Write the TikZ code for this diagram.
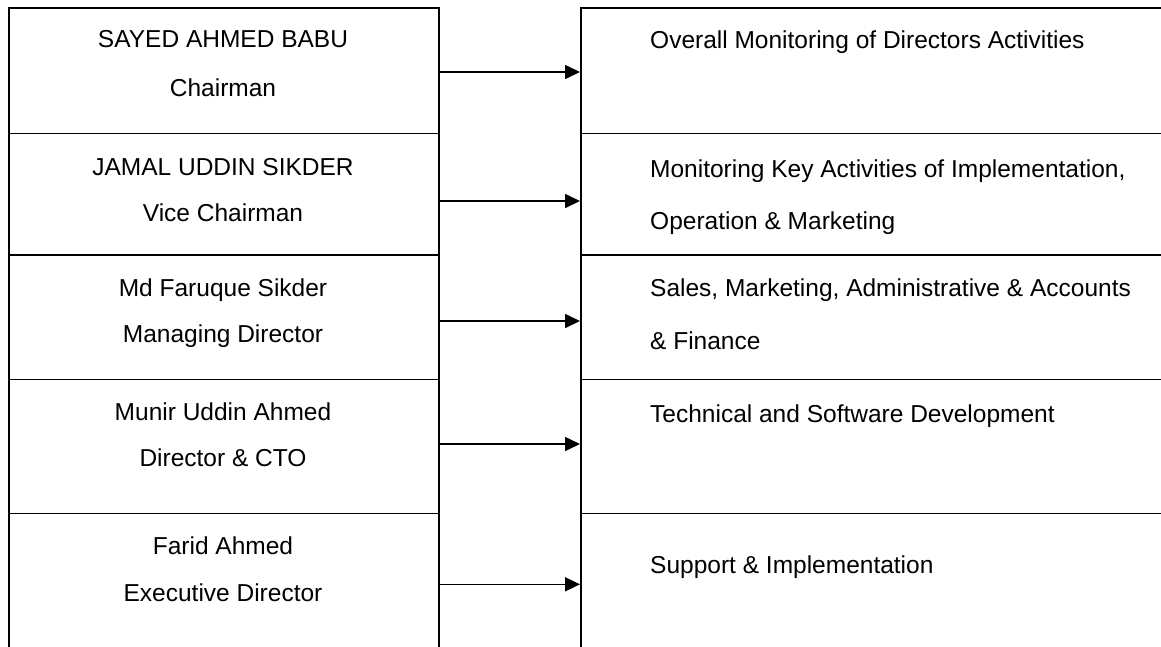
\documentclass[tikz,border=0pt]{standalone}
\usepackage{fontspec}
\setmainfont{Liberation Sans}
\usetikzlibrary{arrows.meta}

\tikzset{
  cell/.style={draw, line width=1.8pt, rectangle, inner sep=0pt, anchor=north west},
  person/.style={font=\fontsize{24.5}{29}\selectfont, anchor=base, inner sep=0pt},
  duty/.style={font=\fontsize{24.5}{29}\selectfont, anchor=base west, inner sep=0pt},
  link/.style={-{Triangle[length=15pt,width=14pt]}, line width=1.6pt}
}

\begin{document}
\begin{tikzpicture}[x=1pt, y=-1pt]
    \useasboundingbox (0,0) rectangle (1161,646);
    \clip (0,0) rectangle (1161,646);
    % cells, one row per director
    \foreach \i/\top/\bot in {1/7/132.5, 2/132.5/254, 3/254/378.5, 4/378.5/512.5, 5/512.5/700} {
        \pgfmathsetmacro\h{\bot-\top}
        \node[cell, minimum width=430pt, minimum height=\h pt] (L\i) at (8,\top) {};
        \node[cell, minimum width=640pt, minimum height=\h pt] (R\i) at (580,\top) {};
    }
    % names
    \node[person] (p1a) at (223,47.7) {SAYED AHMED BABU};
    \node[person] (p1b) at (223,96.7) {Chairman};
    \node[person] (p2a) at (223,175) {JAMAL UDDIN SIKDER};
    \node[person] (p2b) at (223,221.7) {Vice Chairman};
    \node[person] (p3a) at (223,296) {Md Faruque Sikder};
    \node[person] (p3b) at (223,342.7) {Managing Director};
    \node[person] (p4a) at (223,420) {Munir Uddin Ahmed};
    \node[person] (p4b) at (223,466.7) {Director \& CTO};
    \node[person] (p5a) at (223,554.3) {Farid Ahmed};
    \node[person] (p5b) at (223,601.7) {Executive Director};
    % duties
    \node[duty] (d1) at (650,48.3) {Overall Monitoring of Directors Activities};
    \node[duty] (d2a) at (650,177.7) {Monitoring Key Activities of Implementation,};
    \node[duty] (d2b) at (650,229.3) {Operation \& Marketing};
    \node[duty] (d3a) at (650,296.7) {Sales, Marketing, Administrative \& Accounts};
    \node[duty] (d3b) at (650,349.3) {\& Finance};
    \node[duty] (d4) at (650,422.7) {Technical and Software Development};
    \node[duty] (d5) at (650,573.3) {Support \& Implementation};
    % arrows
    \foreach \i/\y in {1/72, 2/201, 3/321, 4/444, 5/584.3} {
        \coordinate (a\i) at (0,\y);
        \draw[link] (L\i.east |- a\i) -- (R\i.west |- a\i);
    }
\end{tikzpicture}
\end{document}
